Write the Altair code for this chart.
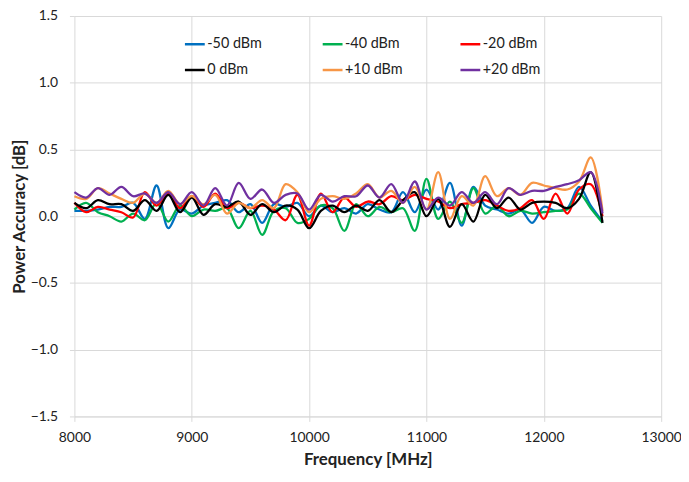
import altair as alt
import pandas as pd

freq = list(range(8000, 12501, 100))

series_names = ["-50 dBm", "-40 dBm", "-20 dBm", "0 dBm", "+10 dBm", "+20 dBm"]
series_colors = ["#0070C0", "#00B050", "#FF0000", "#000000", "#F79646", "#7030A0"]

m50 = [0.04, 0.04, 0.05, 0.07, 0.07, 0.10, -0.02, 0.23, -0.09, 0.05,
       0.02, 0.08, 0.10, 0.12, 0.03, 0.09, -0.05, 0.09, 0.07, 0.10,
       0.00, 0.08, 0.03, 0.06, 0.02, 0.09, 0.05, 0.03, 0.18, 0.03,
       0.20, 0.05, 0.25, -0.07, 0.22, 0.08, 0.05, 0.02, 0.05, -0.05,
       0.07, 0.04, 0.06, 0.22, 0.08, -0.04]
m40 = [0.05, 0.10, 0.03, 0.00, -0.04, 0.02, -0.03, 0.10, -0.04, 0.08,
       0.00, 0.05, 0.04, 0.06, -0.09, 0.04, -0.14, 0.04, 0.06, -0.05,
       -0.02, 0.08, 0.06, -0.11, 0.09, 0.00, 0.07, 0.03, 0.06, -0.11,
       0.28, -0.02, 0.11, -0.05, 0.21, 0.02, 0.08, 0.00, 0.04, 0.02,
       0.03, 0.04, 0.05, 0.17, 0.06, -0.05]
m20 = [0.10, 0.03, 0.07, 0.05, 0.03, -0.01, 0.18, 0.08, 0.17, 0.06,
       0.15, 0.07, 0.17, 0.06, 0.10, 0.06, 0.08, 0.05, -0.03, 0.16,
       -0.07, 0.17, 0.03, 0.14, 0.07, 0.11, 0.09, 0.15, 0.12, 0.16,
       0.13, 0.11, 0.06, 0.09, 0.10, 0.12, 0.08, 0.04, 0.06, 0.12,
       -0.02, 0.17, 0.02, 0.20, 0.24, 0.00]
p0 = [0.10, 0.06, 0.12, 0.09, 0.09, 0.04, 0.12, 0.04, 0.16, 0.03,
      0.14, 0.01, 0.09, 0.07, 0.11, 0.01, 0.09, 0.03, 0.08, 0.05,
      -0.09, 0.04, 0.08, 0.03, 0.08, 0.04, 0.12, 0.03, 0.12, 0.18,
      0.00, 0.13, -0.08, 0.09, -0.04, 0.16, 0.06, 0.14, 0.05, 0.10,
      0.11, 0.10, 0.06, 0.13, 0.33, -0.05]
p10 = [0.15, 0.13, 0.21, 0.17, 0.13, 0.10, 0.17, 0.10, 0.19, 0.09,
       0.15, 0.09, 0.16, 0.02, 0.10, 0.06, 0.12, 0.06, 0.24, 0.18,
       0.03, 0.13, 0.15, 0.13, 0.17, 0.24, 0.14, 0.19, 0.10, 0.22,
       0.05, 0.33, -0.02, 0.15, 0.08, 0.30, 0.15, 0.21, 0.16, 0.25,
       0.23, 0.21, 0.20, 0.26, 0.44, 0.04]
p20 = [0.18, 0.14, 0.21, 0.16, 0.22, 0.15, 0.17, 0.10, 0.18, 0.09,
       0.18, 0.08, 0.21, 0.08, 0.25, 0.13, 0.20, 0.10, 0.16, 0.17,
       0.05, 0.16, 0.11, 0.15, 0.15, 0.23, 0.14, 0.24, 0.10, 0.26,
       0.05, 0.14, 0.08, 0.18, 0.10, 0.18, 0.09, 0.21, 0.16, 0.19,
       0.19, 0.22, 0.24, 0.27, 0.33, 0.02]

x_ticks = [8000, 9000, 10000, 11000, 12000, 13000]
y_ticks = [-1.5, -1.0, -0.5, 0.0, 0.5, 1.0, 1.5]

all_series = [m50, m40, m20, p0, p10, p20]
rows = []
for name, vals in zip(series_names, all_series):
    for f, v in zip(freq, vals):
        rows.append({"freq": f, "acc": v, "series": name})
df = pd.DataFrame(rows)

FONT = "Lato"

chart = alt.Chart(df).mark_line(
    interpolate="catmull-rom", strokeWidth=2.3
).encode(
    x=alt.X("freq:Q",
            scale=alt.Scale(domain=[8000, 13000], nice=False),
            axis=alt.Axis(values=x_ticks, format="d", title="Frequency [MHz]",
                          titleFontSize=17, titleFontWeight="bold", titleColor="#222",
                          labelFontSize=14, labelColor="#222", labelPadding=9,
                          labelFlush=False,
                          tickSize=5, tickColor="#d9d9d9", domainColor="#d9d9d9",
                          gridColor="#d9d9d9", titlePadding=8)),
    y=alt.Y("acc:Q",
            scale=alt.Scale(domain=[-1.5, 1.5], nice=False),
            axis=alt.Axis(values=y_ticks, format=".1f", title="Power Accuracy [dB]",
                          titleFontSize=17, titleFontWeight="bold", titleColor="#222",
                          labelFontSize=14, labelColor="#222", labelPadding=12,
                          labelFlush=False,
                          tickSize=5, tickColor="#d9d9d9", domain=False,
                          gridColor="#d9d9d9", titlePadding=2)),
    color=alt.Color("series:N",
                    scale=alt.Scale(domain=series_names, range=series_colors),
                    legend=alt.Legend(title=None, orient="none", legendX=110, legendY=17,
                                      direction="horizontal",
                                      columns=3, columnPadding=52, rowPadding=8,
                                      symbolType="stroke", symbolSize=400,
                                      symbolStrokeWidth=2.5, labelFontSize=14.5,
                                      labelColor="#222", labelOffset=1,
                                      gridAlign="all")),
    order=alt.Order("freq:Q"),
).properties(
    width=592, height=404,
    autosize=alt.AutoSizeParams(type="none"),
    padding={"left": 67, "top": 6, "right": 20, "bottom": 54},
).configure(
    font=FONT
).configure_view(
    stroke=None
)

chart.save("out.html", embed_options={"renderer": "svg", "actions": False})
